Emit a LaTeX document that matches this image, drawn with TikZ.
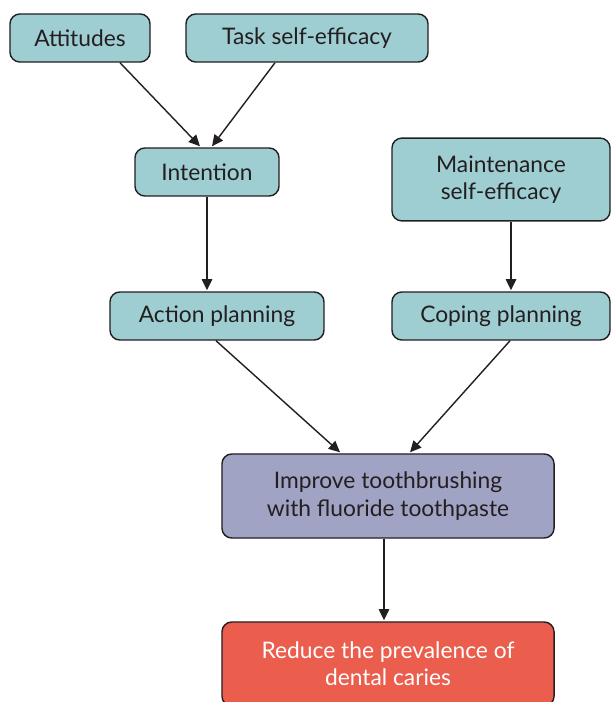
\documentclass[tikz,border=0pt]{standalone}
\usepackage{fontspec}
\setmainfont{Lato}
\usepackage{tikz}
\usetikzlibrary{calc}
\usetikzlibrary{arrows.meta}
\definecolor{BoxTeal}{RGB}{158,205,210}
\definecolor{BoxLilac}{RGB}{161,163,196}
\definecolor{BoxRed}{RGB}{235,94,78}
\definecolor{InkGray}{RGB}{35,31,32}
\tikzset{
	box/.style={draw=InkGray,line width=1pt,rounded corners=7pt,fill=BoxTeal,
		text=InkGray,align=center,inner sep=2pt,
		font=\fontsize{16.2}{19.3}\selectfont},
	link/.style={draw=InkGray,line width=1pt,-{Triangle[length=8pt,width=7.5pt]}},
}

\begin{document}
\begin{tikzpicture}[x=0.025cm,y=-0.025cm]
	\clip (0,0) rectangle (611,702);
	\node[box,minimum width=3.5cm,minimum height=1.2cm] (att) at (80,38) {Attitudes};
	\node[box,minimum width=6.05cm,minimum height=1.2cm] (task) at (307,38) {Task self-efficacy};
	\node[box,minimum width=3.6cm,minimum height=1.2cm] (int) at (207,172) {Intention};
	\node[box,minimum width=5.45cm,minimum height=2.07cm] (maint) at (501,179.5) {Maintenance\\self-efficacy};
	\node[box,minimum width=5.35cm,minimum height=1.2cm] (act) at (217,316) {Action planning};
	\node[box,minimum width=5.45cm,minimum height=1.2cm] (cope) at (501,316) {Coping planning};
	\node[box,fill=BoxLilac,minimum width=8.3cm,minimum height=2.1cm] (impr) at (388,496) {Improve toothbrushing\\with fluoride toothpaste};
	\node[box,fill=BoxRed,text=white,minimum width=8.3cm,minimum height=2.1cm] (red) at (388,664) {Reduce the prevalence of\\dental caries};
	% arrows
	\draw[link] ($(att.south)+(40,0)$) -- ($(int.north)+(-7,-1)$);
	\draw[link] ($(task.south)+(-32,0)$) -- ($(int.north)+(5,-1)$);
	\draw[link] ($(int.south)$) -- ($(int.south |- act.north)+(0,-1)$);
	\draw[link] ($(maint.south)+(10,0)$) -- ($(maint.south |- cope.north)+(10,-1)$);
	\draw[link] ($(act.south)+(-1,0)$) -- ($(impr.north)+(-48,-1)$);
	\draw[link] ($(cope.south)+(9,0)$) -- ($(impr.north)+(22,-1)$);
	\draw[link] ($(impr.south)+(-4,0)$) -- ($(red.north)+(-4,-1)$);
\end{tikzpicture}
\end{document}
